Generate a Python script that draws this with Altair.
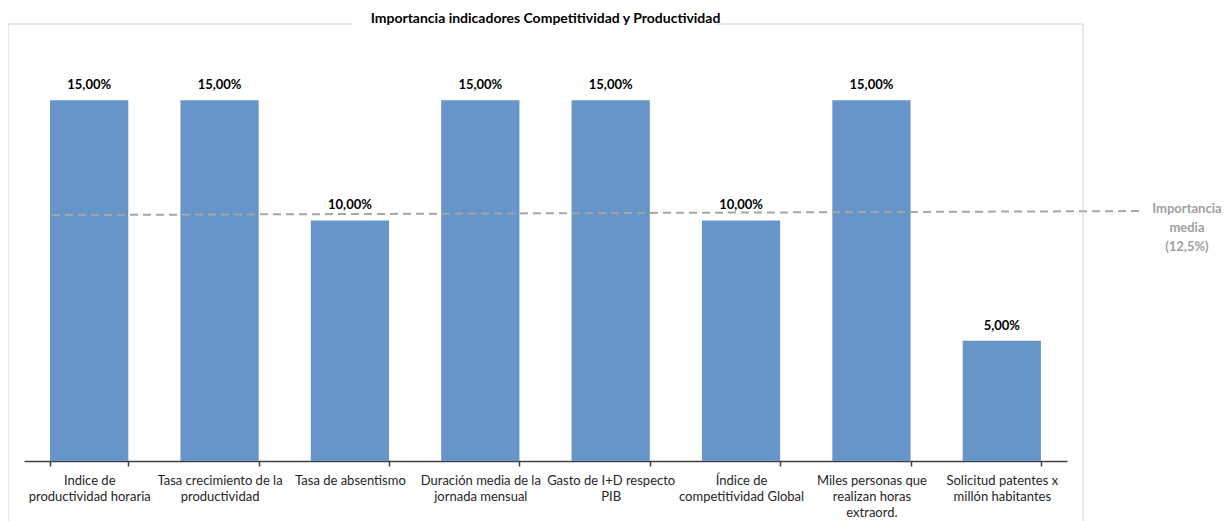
import altair as alt
import pandas as pd

categories = [
    "Indice de|productividad horaria",
    "Tasa crecimiento de la|productividad",
    "Tasa de absentismo",
    "Duración media de la|jornada mensual",
    "Gasto de I+D respecto|PIB",
    "Índice de|competitividad Global",
    "Miles personas que|realizan horas|extraord.",
    "Solicitud patentes x|millón habitantes",
]
values = [15, 15, 10, 15, 15, 10, 15, 5]
labels = [f"{v:.2f}".replace(".", ",") + "%" for v in values]

# dashed "average" line as drawn in the source (band units along x, % along y)
line_x = [0.215, 8.56]
line_y = [10.22, 10.39]

annot_x = [8.92]
annot_y = [10.47]
annot_text = ["Importancia\nmedia\n(12,5%)"]

title_text = "Importancia indicadores Competitividad y Productividad"

df = pd.DataFrame({"cat": categories, "val": values, "lab": labels})
line_df = pd.DataFrame({"lx": line_x, "ly": line_y})
annot_df = pd.DataFrame({"ax": annot_x, "ay": annot_y, "t": annot_text})
one = pd.DataFrame({"a": [0]})

FONT = "Lato"
yscale = alt.Scale(domain=[0, 18], nice=False, zero=True)
xband = alt.Scale(paddingInner=0.4, paddingOuter=0.2)
xq = alt.Scale(domain=[0, 8], nice=False, zero=False)

xaxis = alt.Axis(title=None, labelAngle=0,
                 labelExpr="split(datum.label, '|')",
                 labelFont=FONT, labelFontSize=13, labelColor="#262626",
                 labelLimit=0, labelPadding=8, labelLineHeight=16,
                 labelBaseline="top",
                 tickBand="extent", tickSize=5, tickColor="#404040",
                 tickWidth=1.5,
                 domainColor="#404040", domainWidth=1.5, grid=False)

bars = alt.Chart(df).mark_bar(color="#6794C9").encode(
    x=alt.X("cat:N", sort=categories, scale=xband, axis=xaxis),
    y=alt.Y("val:Q", scale=yscale, axis=None),
)
btext = alt.Chart(df).mark_text(dy=-8, baseline="bottom", font=FONT, fontSize=13,
                                fontWeight="bold", color="#000000").encode(
    x=alt.X("cat:N", sort=categories, scale=xband, axis=xaxis),
    y=alt.Y("val:Q", scale=yscale, axis=None),
    text="lab:N",
)

line = alt.Chart(line_df).mark_line(strokeDash=[8, 5], color="#A6A6A6",
                                    strokeWidth=2, clip=False).encode(
    x=alt.X("lx:Q", scale=xq, axis=None),
    y=alt.Y("ly:Q", scale=yscale, axis=None),
)
annot = alt.Chart(annot_df).mark_text(align="center", baseline="middle",
                                      lineBreak="\n", lineHeight=19,
                                      font=FONT, fontSize=13, fontWeight="bold",
                                      color="#A0A0A0").encode(
    x=alt.X("ax:Q", scale=xq, axis=None),
    y=alt.Y("ay:Q", scale=yscale, axis=None),
    text="t:N",
)

bc = "#D0D0D0"
b_left = alt.Chart(one).mark_rule(color=bc, strokeWidth=1).encode(
    x=alt.value(-16), y=alt.value(-4), y2=alt.value(560))
b_right = alt.Chart(one).mark_rule(color=bc, strokeWidth=1).encode(
    x=alt.value(1059), y=alt.value(-4), y2=alt.value(560))
b_top1 = alt.Chart(one).mark_rule(color=bc, strokeWidth=1).encode(
    x=alt.value(-16), x2=alt.value(328), y=alt.value(-4))
b_top2 = alt.Chart(one).mark_rule(color=bc, strokeWidth=1).encode(
    x=alt.value(693), x2=alt.value(1059), y=alt.value(-4))

chart = alt.layer(
    alt.layer(bars, btext),
    alt.layer(line, annot),
    b_left, b_right, b_top1, b_top2,
).resolve_scale(x="independent").properties(
    width=1043, height=433,
    background="white",
    autosize=alt.AutoSizeParams(type="none"),
    padding={"left": 16, "top": 20, "right": 155, "bottom": 70},
    title=alt.Title(title_text, font=FONT, fontSize=14, fontWeight="bold",
                    color="#000000", anchor="middle", offset=-2),
).configure_view(stroke="transparent", strokeWidth=0
).configure_axis(grid=False)

chart.save("out.html", embed_options={"renderer": "svg", "actions": False})
